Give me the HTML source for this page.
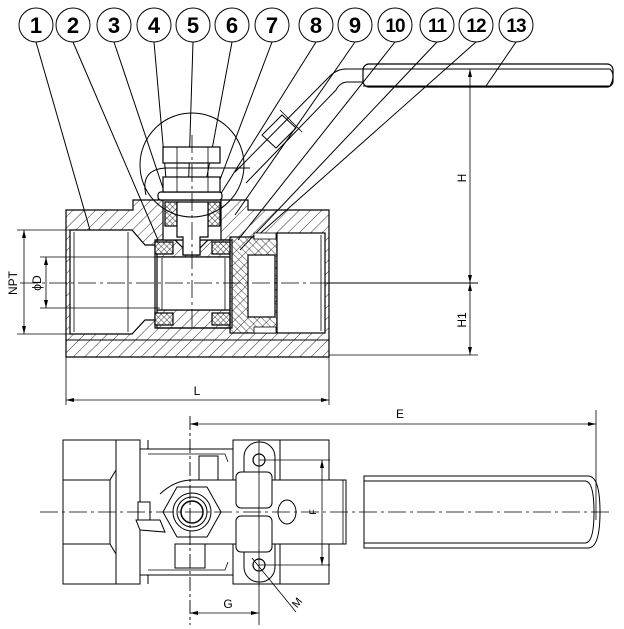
<!DOCTYPE html>
<html><head><meta charset="utf-8"><style>
html,body{margin:0;padding:0;background:#fff;}
svg{display:block;}
text{font-family:"Liberation Sans",sans-serif;fill:#000;stroke:none;}
</style></head><body>
<svg width="624" height="629" viewBox="0 0 624 629" xmlns="http://www.w3.org/2000/svg">
<defs>
<pattern id="h" width="8" height="8" patternUnits="userSpaceOnUse" patternTransform="rotate(45)">
<line x1="0" y1="0" x2="0" y2="8" stroke="#333" stroke-width="1"/>
</pattern>
<pattern id="h2" width="5" height="5" patternUnits="userSpaceOnUse" patternTransform="rotate(-45)">
<line x1="0" y1="0" x2="0" y2="5" stroke="#333" stroke-width="0.9"/>
</pattern>
<pattern id="x" width="4" height="4" patternUnits="userSpaceOnUse" patternTransform="rotate(45)">
<rect width="4" height="4" fill="#fff"/>
<line x1="0" y1="0" x2="0" y2="4" stroke="#222" stroke-width="0.9"/>
<line x1="0" y1="0" x2="4" y2="0" stroke="#222" stroke-width="0.9"/>
</pattern>
</defs>
<g fill="none" stroke="#000" stroke-width="1.2">

<g stroke-width="1">
<circle cx="36" cy="25" r="17"/><circle cx="73" cy="25" r="17"/><circle cx="114" cy="25" r="17"/>
<circle cx="154" cy="25" r="17"/><circle cx="193" cy="25" r="17"/><circle cx="232" cy="25" r="17"/>
<circle cx="272" cy="25" r="17"/><circle cx="316" cy="25" r="17"/><circle cx="355" cy="25" r="17"/>
<circle cx="395" cy="25" r="17"/><circle cx="437" cy="25" r="17"/><circle cx="476" cy="25" r="17"/>
<circle cx="516" cy="25" r="17"/>
<line x1="36" y1="42" x2="90" y2="230"/>
<line x1="73" y1="42" x2="158" y2="240"/>
<line x1="114" y1="42" x2="172" y2="215"/>
<line x1="154" y1="42" x2="167" y2="190"/>
<line x1="193" y1="42" x2="188" y2="200"/>
<line x1="232" y1="42" x2="197" y2="230"/>
<line x1="272" y1="42" x2="218" y2="185"/>
<line x1="316" y1="42" x2="220" y2="195"/>
<line x1="355" y1="42" x2="235" y2="215"/>
<line x1="395" y1="42" x2="238" y2="240"/>
<line x1="437" y1="42" x2="240" y2="250"/>
<line x1="476" y1="42" x2="255" y2="238"/>
<line x1="516" y1="42" x2="486" y2="86"/>
</g>

<path d="M66 210 H133 V200 H248 V210 H329 V357 H66 Z" fill="url(#h)"/>
<line x1="66" y1="340" x2="329" y2="340" stroke-width="1"/>
<path d="M70 230 H132 L145 245 H157 V320 H145 L132 334 H70 Z" fill="#fff"/>
<line x1="74" y1="232" x2="74" y2="332" stroke-width="0.8"/>
<line x1="128" y1="232" x2="128" y2="332" stroke-width="0.8"/>
<rect x="155" y="240" width="77" height="88" fill="#fff"/>
<path d="M157 257 H230 V240 H208 L200 248 V255 H183 V248 L175 240 H157 Z" fill="url(#h)"/>
<path d="M157 310 H230 V328 H157 Z" fill="url(#h)"/>
<rect x="157" y="257" width="73" height="53" fill="#fff"/>
<line x1="162" y1="258" x2="162" y2="310" stroke-width="0.8"/>
<line x1="225" y1="258" x2="225" y2="310" stroke-width="0.8"/>
<rect x="155" y="242" width="18" height="12" fill="url(#x)"/>
<rect x="155" y="313" width="18" height="12" fill="url(#x)"/>
<rect x="212" y="242" width="18" height="12" fill="url(#x)"/>
<rect x="212" y="313" width="18" height="12" fill="url(#x)"/>
<rect x="230" y="237" width="47" height="96" fill="url(#h2)"/>
<rect x="248" y="255" width="27" height="62" fill="#fff"/>
<rect x="254" y="233" width="22" height="6" fill="#fff" stroke-width="0.8"/>
<rect x="254" y="327" width="22" height="6" fill="#fff" stroke-width="0.8"/>
<rect x="277" y="233" width="48" height="100" fill="#fff"/>
<line x1="321" y1="235" x2="321" y2="331" stroke-width="0.8"/>
<rect x="163" y="200" width="58" height="40" fill="#fff"/>
<rect x="165" y="202" width="12" height="24" fill="url(#x)"/>
<rect x="208" y="202" width="12" height="24" fill="url(#x)"/>
<path d="M177 202 H208 V237 H200 V255 H183 V237 H177 Z" fill="#fff"/>
<rect x="158" y="192" width="64" height="8" rx="3" fill="#fff"/>
<rect x="163" y="177" width="57" height="15" fill="#fff"/>
<rect x="163" y="147" width="57" height="16" fill="#fff"/>
<line x1="177" y1="147" x2="177" y2="192" stroke-width="0.8"/>
<line x1="208" y1="147" x2="208" y2="192" stroke-width="0.8"/>
<circle cx="192" cy="165" r="52" stroke-width="1"/>
<path d="M146 195 Q140 170 165 168 H250" stroke-width="1"/>
<path d="M235 172 L330 76 Q337 69 346 69 H610 Q616 75 610 86 H363" stroke-width="1"/>
<path d="M246 183 L336 90 Q340 82 348 82 H363" stroke-width="1"/>
<rect x="363" y="64" width="250" height="23" rx="6"/>
<path d="M262 135 L282 115 L296 128 L276 148 Z" stroke-width="1"/>
<line x1="280" y1="110" x2="302" y2="132" stroke-width="0.8"/>

<line x1="20" y1="283" x2="350" y2="283" stroke-width="0.8" stroke-dasharray="18,4,3,4"/>
<line x1="192" y1="135" x2="192" y2="330" stroke-width="0.8" stroke-dasharray="18,4,3,4"/>

<g stroke-width="0.8">
<line x1="17" y1="230" x2="72" y2="230"/><line x1="17" y1="334" x2="72" y2="334"/>
<line x1="24" y1="230" x2="24" y2="334"/>
<line x1="40" y1="257" x2="160" y2="257"/><line x1="40" y1="308" x2="160" y2="308"/>
<line x1="46" y1="257" x2="46" y2="308"/>
<line x1="66" y1="357" x2="66" y2="405"/><line x1="329" y1="357" x2="329" y2="405"/>
<line x1="66" y1="400" x2="329" y2="400"/>
<line x1="470" y1="69" x2="478" y2="69"/>
<line x1="325" y1="283" x2="478" y2="283" stroke-width="1"/>
<line x1="329" y1="355" x2="478" y2="355"/>
<line x1="470" y1="69" x2="470" y2="355"/>
</g>
<g fill="#000" stroke="none">
<path d="M24 230 l-2 8 h4z"/><path d="M24 334 l-2 -8 h4z"/>
<path d="M46 257 l-2 8 h4z"/><path d="M46 308 l-2 -8 h4z"/>
<path d="M66 400 l8 -2 v4z"/><path d="M329 400 l-8 -2 v4z"/>
<path d="M470 69 l-2 8 h4z"/><path d="M470 283 l-2 -8 h4z"/>
<path d="M470 283 l-2 8 h4z"/><path d="M470 355 l-2 -8 h4z"/>
</g>

<rect x="63" y="440" width="77" height="144" stroke-width="1"/>
<line x1="116" y1="440" x2="116" y2="584" stroke-width="1"/>
<path d="M63 480 H110 V544 H63 M110 480 L116 470 M110 544 L116 554" stroke-width="1"/>
<path d="M140 449 H233 V575 H140 Z M148 449 V440 M148 575 V584" stroke-width="1"/>
<path d="M148 454 H225 L228 462 M148 570 H225 L228 562" stroke-width="0.8"/>
<rect x="233" y="440" width="47" height="144" stroke-width="1"/>
<rect x="280" y="440" width="49" height="144" stroke-width="1"/>
<line x1="282" y1="480" x2="329" y2="480" stroke-width="0.8"/>
<line x1="282" y1="544" x2="329" y2="544" stroke-width="0.8"/>
<rect x="244" y="442" width="31" height="140" rx="15" stroke-width="1"/>
<circle cx="259" cy="460" r="6" fill="#fff"/><circle cx="259" cy="565" r="6" fill="#fff"/>
<rect x="199" y="456" width="19" height="25" fill="#fff" stroke-width="1"/>
<rect x="175" y="544" width="30" height="24" fill="#fff" stroke-width="1"/>
<path d="M160 494 Q175 480 192 480 H346 V544 H192" fill="#fff" stroke-width="1"/>
<line x1="343" y1="480" x2="343" y2="544" stroke-width="0.8"/>
<rect x="236" y="472" width="36" height="36" rx="5" fill="#fff" stroke-width="1"/>
<rect x="236" y="516" width="36" height="36" rx="5" fill="#fff" stroke-width="1"/>
<ellipse cx="287" cy="512" rx="9" ry="12" fill="#fff" stroke-width="1"/>
<path d="M138 502 H150 V520 H138 Z M136 520 L160 520 L165 532 L140 530 Z" fill="#fff" stroke-width="1"/>
<polygon points="163,512 177,487 207,487 221,512 207,537 177,537" fill="#fff" stroke-width="1"/>
<circle cx="192" cy="512" r="19" stroke-width="1"/>
<circle cx="192" cy="512" r="15" stroke-width="1"/>
<circle cx="192" cy="512" r="11" stroke-width="1.5"/>
<path d="M364 476 H588 Q600 476 600 512 Q600 548 588 548 H364 Z" fill="#fff" stroke-width="1"/>
<path d="M364 481 H585 Q594 481 594 512 Q594 543 585 543 H364" stroke-width="1"/>
<line x1="40" y1="512" x2="610" y2="512" stroke-width="0.8" stroke-dasharray="18,4,3,4"/>
<line x1="190" y1="416" x2="190" y2="625" stroke-width="0.9" stroke-dasharray="14,3,3,3"/>
<g stroke-width="0.8">
<line x1="190" y1="424" x2="596" y2="424"/><line x1="596" y1="410" x2="596" y2="520"/>
<line x1="259" y1="460" x2="330" y2="460"/><line x1="259" y1="565" x2="330" y2="565"/>
<line x1="322" y1="460" x2="322" y2="565"/>
<line x1="259" y1="440" x2="259" y2="625"/>
<line x1="190" y1="613" x2="259" y2="613"/>
<line x1="252" y1="558" x2="296" y2="612"/>
</g>
<g fill="#000" stroke="none">
<path d="M190 424 l8 -2 v4z"/><path d="M596 424 l-8 -2 v4z"/>
<path d="M322 460 l-2 8 h4z"/><path d="M322 565 l-2 -8 h4z"/>
<path d="M190 613 l8 -2 v4z"/><path d="M259 613 l-8 -2 v4z"/>
</g>
</g>
<g stroke="none" fill="#000" font-size="12">
<text x="17" y="283" transform="rotate(-90 17 283)" text-anchor="middle">NPT</text>
<text x="41" y="283" transform="rotate(-90 41 283)" text-anchor="middle">ϕD</text>
<text x="197" y="395" text-anchor="middle">L</text>
<text x="466" y="178" transform="rotate(-90 466 178)" text-anchor="middle">H</text>
<text x="466" y="320" transform="rotate(-90 466 320)" text-anchor="middle">H1</text>
<text x="400" y="418" text-anchor="middle">E</text>
<text x="228" y="608" text-anchor="middle">G</text>
<text x="316" y="512" font-size="9" transform="rotate(-90 316 512)" text-anchor="middle">F</text>
<text x="300" y="605" font-size="11" transform="rotate(-50 300 605)" text-anchor="middle">M</text>
</g>
<g font-size="22" font-weight="bold" text-anchor="middle" stroke="none" fill="#000">
<text x="36" y="33">1</text><text x="73" y="33">2</text><text x="114" y="33">3</text>
<text x="154" y="33">4</text><text x="193" y="33">5</text><text x="232" y="33">6</text>
<text x="272" y="33">7</text><text x="316" y="33">8</text><text x="355" y="33">9</text>
<text x="395" y="32" font-size="19" letter-spacing="-1">10</text><text x="437" y="32" font-size="19" letter-spacing="-1">11</text>
<text x="476" y="32" font-size="19" letter-spacing="-1">12</text><text x="516" y="32" font-size="19" letter-spacing="-1">13</text>
</g>
</svg>
</body></html>
